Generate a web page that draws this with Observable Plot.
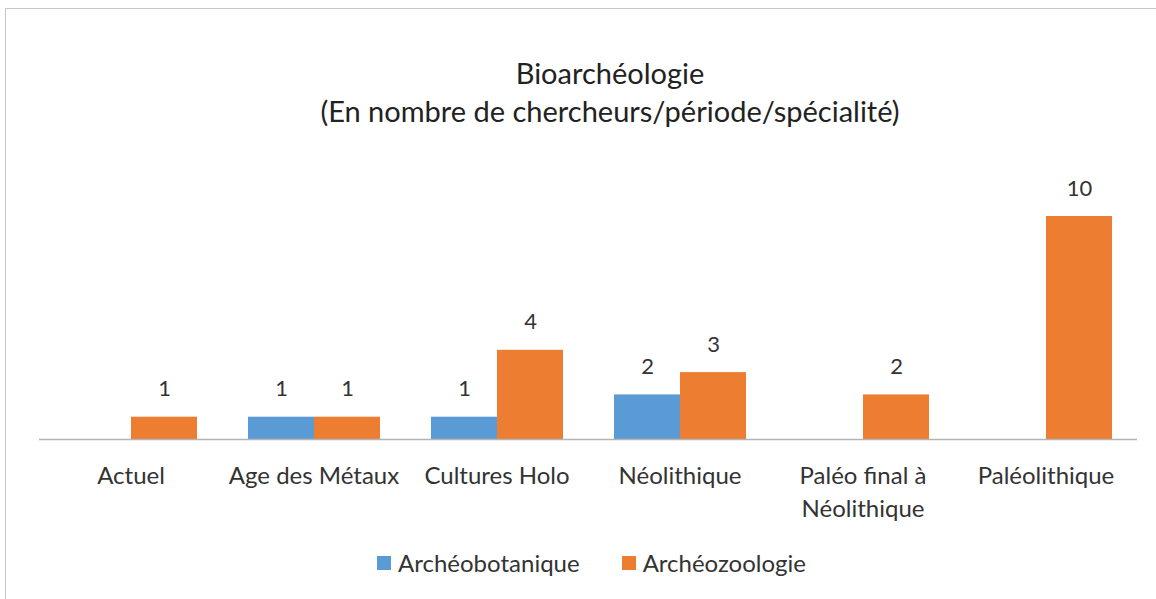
<!DOCTYPE html>
<html>
<head>
<meta charset="utf-8">
<script src="https://cdn.jsdelivr.net/npm/d3@7"></script>
<script src="https://cdn.jsdelivr.net/npm/@observablehq/plot@0.6"></script>
<style>
  html, body { margin: 0; padding: 0; background: #fff; width: 1156px; height: 599px; overflow: hidden; }
  body { font-family: Lato, "Open Sans", sans-serif; color: #333; position: relative; }
  #frame { position: absolute; left: 5px; top: 8px; width: 1210px; height: 620px; border: 1px solid #c8c8c8; box-sizing: border-box; }
  #title { position: absolute; left: 0; top: 54px; width: 1220px; text-align: center; font-size: 29px; line-height: 38px; color: #222; }
  #chart { position: absolute; left: 0; top: 150px; }
  #legend { position: absolute; left: 0; top: 548px; width: 1183px; display: flex; justify-content: center; align-items: center; font-size: 24px; line-height: 30px; color: #333; }
  .item { display: flex; align-items: center; margin: 0 21px; }
  .sw { width: 14px; height: 14px; margin-right: 7px; }
</style>
</head>
<body>
<div id="frame"></div>
<div id="title">Bioarchéologie<br>(En nombre de chercheurs/période/spécialité)</div>
<div id="chart"></div>
<div id="legend"></div>
<script>
const categories = ["Actuel", "Age des Métaux", "Cultures Holo", "Néolithique", "Paléo final à Néolithique", "Paléolithique"];
const tickLabels = ["Actuel", "Age des Métaux", "Cultures Holo", "Néolithique", "Paléo final à\nNéolithique", "Paléolithique"];
const series = ["Archéobotanique", "Archéozoologie"];
const archeobotanique = [null, 1, 1, 2, null, null];
const archeozoologie = [1, 1, 4, 3, 2, 10];
const colors = ["#5B9BD5", "#ED7D31"];

const data = [];
categories.forEach((c, i) => {
  [archeobotanique, archeozoologie].forEach((arr, s) => {
    if (arr[i] != null) data.push({cat: c, serie: series[s], value: arr[i]});
  });
});

const labelMap = new Map(categories.map((c, i) => [c, tickLabels[i]]));

const chart = Plot.plot({
  width: 1156,
  height: 390,
  marginLeft: 36,
  marginRight: 17,
  marginTop: 66,
  marginBottom: 101,
  style: {fontFamily: "Lato, 'Open Sans', sans-serif", background: "transparent"},
  fx: {domain: categories, padding: 0, label: null},
  x: {domain: series, paddingInner: 0, paddingOuter: 0.376, axis: null},
  y: {domain: [0, 10], axis: null},
  color: {domain: series, range: colors},
  marks: [
    Plot.barY(data, {fx: "cat", x: "serie", y: "value", fill: "serie"}),
    Plot.ruleY([0], {stroke: "#b4b4b4", strokeWidth: 1.5}),
    Plot.text(data, {fx: "cat", x: "serie", y: "value", text: d => String(d.value), dy: -28, fontSize: 22, fill: "#333"}),
    Plot.axisFx({anchor: "bottom", tickSize: 0, tickPadding: 21, fontSize: 24, lineHeight: 1.375, fill: "#333", tickFormat: d => labelMap.get(d), label: null})
  ]
});
document.getElementById("chart").appendChild(chart);

const legend = document.getElementById("legend");
series.forEach((s, i) => {
  const item = document.createElement("div");
  item.className = "item";
  const sw = document.createElement("div");
  sw.className = "sw";
  sw.style.background = colors[i];
  const t = document.createElement("span");
  t.textContent = s;
  item.appendChild(sw);
  item.appendChild(t);
  legend.appendChild(item);
});
</script>
</body>
</html>
